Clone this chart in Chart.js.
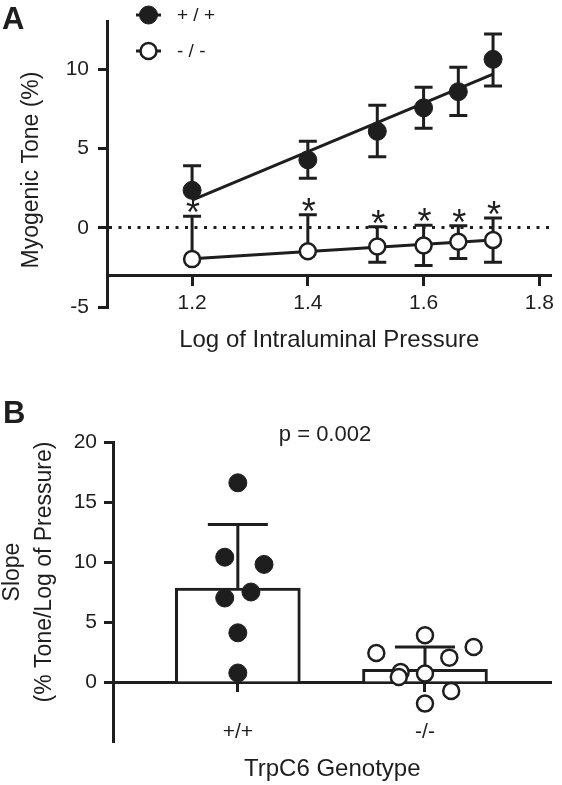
<!DOCTYPE html>
<html>
<head>
<meta charset="utf-8">
<script src="https://cdn.jsdelivr.net/npm/chart.js@4.4.1/dist/chart.umd.min.js"></script>
<style>
  html, body { margin: 0; padding: 0; background: #fff; }
  #wrap { position: relative; width: 562px; height: 785px; }
  #chartA { position: absolute; left: 0; top: 0; }
  #chartB { position: absolute; left: 0; top: 360px; }
</style>
</head>
<body>
<div id="wrap">
  <canvas id="chartA" width="562" height="360"></canvas>
  <canvas id="chartB" width="562" height="425"></canvas>
</div>
<script>
// Panel A: myogenic tone vs log pressure (mean +/- SEM)
const pressureLog = [1.2, 1.4, 1.52, 1.6, 1.66, 1.72];
const wtTone = [2.36, 4.28, 6.08, 7.56, 8.58, 10.62];
const wtErrUp = [1.55, 1.18, 1.64, 1.3, 1.54, 1.6];
const wtErrDown = [0, 1.16, 1.6, 1.28, 1.5, 1.68];
const koTone = [-1.98, -1.48, -1.18, -1.12, -0.88, -0.78];
const koErrUp = [2.7, 2.3, 1.24, 1.28, 1.0, 1.4];
const koErrDown = [0, 0, 1.0, 1.26, 1.06, 1.4];
const xTicksA = [1.2, 1.4, 1.6, 1.8];
const yTicksA = [-5, 0, 5, 10];

// Panel B: slopes per vessel
const genotypes = ['+/+', '-/-'];
const wtSlope = [16.6, 10.4, 9.8, 7.0, 7.5, 4.1, 0.75];
const wtJitter = [0, -0.07, 0.14, -0.07, 0.07, 0, 0];
const koSlope = [3.89, 2.42, 2.92, 2.03, 0.83, 0.42, 0.70, -0.75, -1.8];
const koJitter = [0, -0.26, 0.26, 0.13, -0.13, -0.14, 0, 0.14, 0];
const slopeMean = [7.83, 1.06];
const slopeSd = [5.3, 1.86];
const yTicksB = [0, 5, 10, 15, 20];
const pLabel = 'p = 0.002';

const INK = '#1e1e1e';
const FONT = "'Liberation Sans', Arial, Helvetica, sans-serif";
Chart.defaults.font.family = FONT;
Chart.defaults.color = INK;

// least squares line through the means
function fitLine(xs, ys) {
    const n = xs.length;
    const mx = xs.reduce((a, b) => a + b, 0) / n;
    const my = ys.reduce((a, b) => a + b, 0) / n;
    let sxy = 0, sxx = 0;
    xs.forEach((x, i) => { sxy += (x - mx) * (ys[i] - my); sxx += (x - mx) * (x - mx); });
    const b = sxy / sxx, a = my - b * mx;
    return [{x: xs[0], y: a + b * xs[0]}, {x: xs[n - 1], y: a + b * xs[n - 1]}];
}

// free text (panel letters, rotated titles, p value)
const panelText = {
    id: 'panelText',
    afterDraw(chart, args, opts) {
        const ctx = chart.ctx;
        (opts.items || []).forEach(t => {
            ctx.save();
            ctx.font = t.font;
            ctx.fillStyle = INK;
            ctx.textAlign = t.align || 'left';
            ctx.textBaseline = 'alphabetic';
            ctx.translate(t.x, t.y);
            if (t.rotate) ctx.rotate(-Math.PI / 2);
            ctx.fillText(t.text, 0, 0);
            ctx.restore();
        });
    }
};

const errorBarsA = {
    id: 'errorBarsA',
    beforeDatasetsDraw(chart) {
        const {ctx, scales: {x, y}} = chart;
        ctx.save();
        ctx.strokeStyle = INK;
        ctx.lineWidth = 3;
        const draw = (means, up, down) => {
            pressureLog.forEach((p, i) => {
                const px = x.getPixelForValue(p);
                const top = y.getPixelForValue(means[i] + up[i]);
                const bot = y.getPixelForValue(means[i] - down[i]);
                ctx.beginPath();
                ctx.moveTo(px, top); ctx.lineTo(px, bot);
                if (up[i] > 0) { ctx.moveTo(px - 9, top); ctx.lineTo(px + 9, top); }
                if (down[i] > 0) { ctx.moveTo(px - 9, bot); ctx.lineTo(px + 9, bot); }
                ctx.stroke();
            });
        };
        draw(wtTone, wtErrUp, wtErrDown);
        draw(koTone, koErrUp, koErrDown);
        ctx.restore();
    },
    afterDatasetsDraw(chart) {
        // significance stars above the -/- bars
        const {ctx, scales: {x, y}} = chart;
        ctx.save();
        ctx.fillStyle = INK;
        ctx.font = '36px ' + FONT;
        ctx.textAlign = 'center';
        ctx.textBaseline = 'alphabetic';
        pressureLog.forEach((p, i) => {
            ctx.fillText('*', x.getPixelForValue(p) + 1, y.getPixelForValue(koTone[i] + koErrUp[i]) + 9);
        });
        // legend
        ctx.font = '19px ' + FONT;
        ctx.textAlign = 'left';
        ctx.textBaseline = 'middle';
        [15, 51].forEach((ly, k) => {
            const ds = chart.data.datasets[k];
            ctx.strokeStyle = INK;
            ctx.lineWidth = 3;
            ctx.beginPath(); ctx.moveTo(136, ly); ctx.lineTo(161, ly); ctx.stroke();
            ctx.beginPath();
            ctx.arc(148.5, ly, ds.pointRadius, 0, Math.PI * 2);
            ctx.fillStyle = ds.pointBackgroundColor;
            ctx.fill();
            ctx.lineWidth = ds.pointBorderWidth;
            ctx.stroke();
            ctx.fillStyle = INK;
            ctx.fillText(ds.label.split('').join(' '), 177, ly + 1);
        });
        ctx.restore();
    }
};

const errorBarsB = {
    id: 'errorBarsB',
    afterDatasetDraw(chart, args) {
        if (args.meta.type !== 'bar') return;
        const {ctx, scales: {x, y}} = chart;
        ctx.save();
        ctx.strokeStyle = INK;
        ctx.lineWidth = 3;
        slopeMean.forEach((m, i) => {
            const px = x.getPixelForValue(i + 1);
            const top = y.getPixelForValue(m + slopeSd[i]);
            ctx.beginPath();
            ctx.moveTo(px, y.getPixelForValue(m)); ctx.lineTo(px, top);
            ctx.moveTo(px - 30, top); ctx.lineTo(px + 30, top);
            ctx.stroke();
        });
        ctx.restore();
    }
};

const tickFont = {family: FONT, size: 21};
const titleFont = {family: FONT, size: 24};

new Chart(document.getElementById('chartA'), {
    type: 'scatter',
    data: {
        datasets: [
            {
                label: genotypes[0],
                data: pressureLog.map((p, i) => ({x: p, y: wtTone[i]})),
                pointRadius: 9, pointBackgroundColor: INK, pointBorderColor: INK, pointBorderWidth: 1,
                order: 1
            },
            {
                label: genotypes[1],
                data: pressureLog.map((p, i) => ({x: p, y: koTone[i]})),
                pointRadius: 8, pointBackgroundColor: '#fff', pointBorderColor: INK, pointBorderWidth: 2.5,
                order: 1
            },
            {
                type: 'line', label: 'fit +/+', data: fitLine(pressureLog, wtTone),
                borderColor: INK, borderWidth: 3, pointRadius: 0, order: 2
            },
            {
                type: 'line', label: 'fit -/-', data: fitLine(pressureLog, koTone),
                borderColor: INK, borderWidth: 3, pointRadius: 0, order: 2
            }
        ]
    },
    options: {
        responsive: false,
        animation: false,
        layout: { padding: { top: 7, bottom: 53, left: 0, right: 7 } },
        plugins: {
            legend: { display: false },
            tooltip: { enabled: false },
            panelText: {
                items: [
                    { text: 'A', x: 2, y: 29, font: 'bold 31px ' + FONT },
                    { text: 'Myogenic Tone (%)', x: 38, y: 170, font: '23px ' + FONT, align: 'center', rotate: true }
                ]
            }
        },
        scales: {
            x: {
                type: 'linear',
                position: { y: -3 },
                min: 1.053,
                max: 1.821,
                afterBuildTicks: s => { s.ticks = xTicksA.map(v => ({value: v})); },
                ticks: { font: tickFont, color: INK, padding: 6, callback: v => v.toFixed(1) },
                grid: { drawOnChartArea: false, tickLength: 9, tickWidth: 3, tickColor: INK },
                border: { color: INK, width: 3 },
                title: { display: true, text: 'Log of Intraluminal Pressure', font: titleFont, color: INK, padding: { top: 4, bottom: 0 } }
            },
            y: {
                min: -5,
                max: 13,
                afterFit: s => { s.width = 107; },
                afterBuildTicks: s => { s.ticks = yTicksA.map(v => ({value: v})); },
                ticks: { font: tickFont, color: INK, padding: 9, callback: v => String(v) },
                grid: {
                    color: c => (c.tick && c.tick.value === 0) ? INK : 'rgba(0,0,0,0)',
                    lineWidth: 3, tickLength: 9, tickWidth: 3, tickColor: INK
                },
                border: { color: INK, width: 3, dash: [3, 6.5] }
            }
        }
    },
    plugins: [errorBarsA, panelText]
});

new Chart(document.getElementById('chartB'), {
    type: 'bar',
    data: {
        datasets: [
            {
                type: 'scatter', label: genotypes[0],
                data: wtSlope.map((v, i) => ({x: 1 + wtJitter[i], y: v})),
                pointRadius: 9, pointBackgroundColor: INK, pointBorderColor: INK, pointBorderWidth: 1,
                order: 1
            },
            {
                type: 'scatter', label: genotypes[1],
                data: koSlope.map((v, i) => ({x: 2 + koJitter[i], y: v})),
                pointRadius: 8, pointBackgroundColor: '#fff', pointBorderColor: INK, pointBorderWidth: 2.5,
                order: 1
            },
            {
                type: 'bar', label: 'mean',
                data: slopeMean.map((v, i) => ({x: i + 1, y: v})),
                backgroundColor: '#fff', borderColor: INK, borderWidth: 3,
                barThickness: 125, order: 2
            }
        ]
    },
    options: {
        responsive: false,
        animation: false,
        layout: { padding: { top: 82, bottom: 43, left: 0, right: 0 } },
        plugins: {
            legend: { display: false },
            tooltip: { enabled: false },
            panelText: {
                items: [
                    { text: 'B', x: 3, y: 63, font: 'bold 31px ' + FONT },
                    { text: pLabel, x: 325, y: 81, font: '22px ' + FONT, align: 'center' },
                    { text: 'Slope', x: 19, y: 212, font: '23px ' + FONT, align: 'center', rotate: true },
                    { text: '(% Tone/Log of Pressure)', x: 51, y: 212, font: '23px ' + FONT, align: 'center', rotate: true }
                ]
            }
        },
        scales: {
            x: {
                type: 'linear',
                position: { y: 0 },
                offset: false,
                min: 0.333,
                max: 2.676,
                afterBuildTicks: s => { s.ticks = genotypes.map((g, i) => ({value: i + 1})); },
                ticks: { font: tickFont, color: INK, padding: 30, callback: (v, i) => genotypes[i] },
                grid: { offset: false, drawOnChartArea: false, tickLength: 8, tickWidth: 3, tickColor: INK },
                border: { color: INK, width: 3 },
                title: { display: true, text: 'TrpC6 Genotype', font: titleFont, color: INK, padding: { top: -20, bottom: 0 } }
            },
            y: {
                min: -5,
                max: 20,
                afterFit: s => { s.width = 113; },
                afterBuildTicks: s => { s.ticks = yTicksB.map(v => ({value: v})); },
                ticks: { font: tickFont, color: INK, padding: 7, callback: v => String(v) },
                grid: { drawOnChartArea: false, tickLength: 9, tickWidth: 3, tickColor: INK },
                border: { color: INK, width: 3 }
            }
        }
    },
    plugins: [errorBarsB, panelText]
});
</script>
</body>
</html>
